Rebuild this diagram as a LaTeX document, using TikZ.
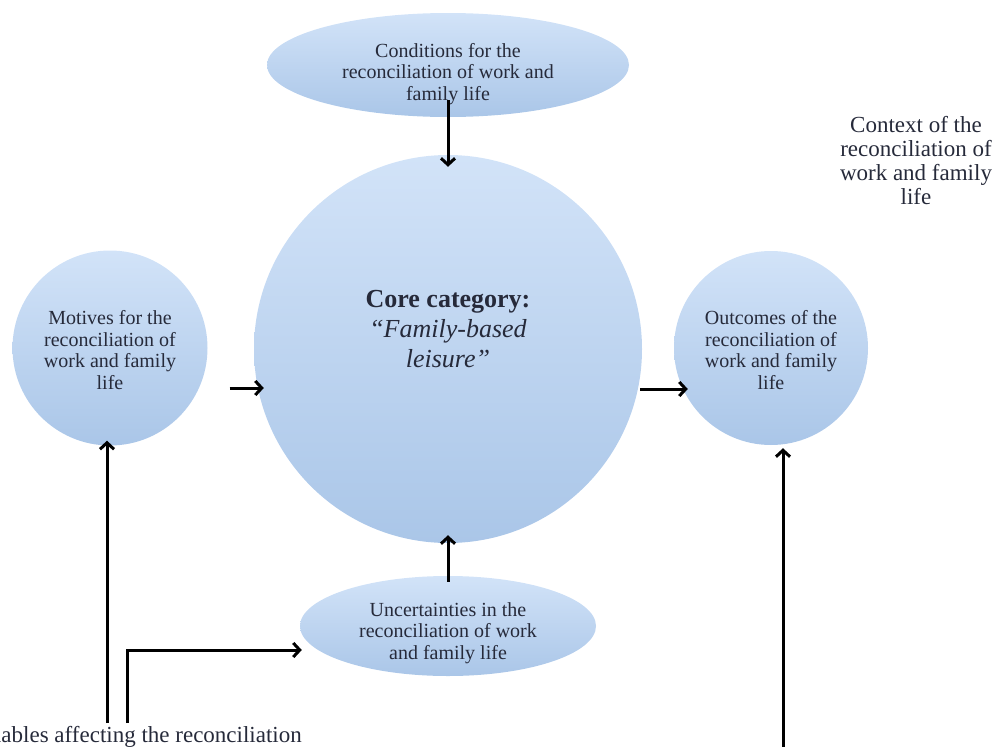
\documentclass[tikz,border=0pt]{standalone}
\usepackage{fontspec}
\setmainfont{Liberation Serif}
\usetikzlibrary{shapes.geometric,arrows.meta}
\definecolor{blueTop}{RGB}{210,227,248}
\definecolor{blueBot}{RGB}{170,198,232}
\definecolor{textc}{RGB}{38,42,58}
\begin{document}
\begin{tikzpicture}[x=1pt,y=-1pt,
  bubble/.style={draw=none, top color=blueTop, bottom color=blueBot, inner sep=0pt},
  btext/.style={align=center, text=textc, inner sep=0pt, font=\fontsize{20}{21.7}\selectfont},
  arr/.style={line width=3pt, -{Straight Barb[length=6.5pt,width=14pt]}},
  ]
\useasboundingbox (0,0) rectangle (999,747);
\clip (0,0) rectangle (999,747);
% shapes
\node[bubble, ellipse, minimum width=362pt, minimum height=104pt] (cond) at (448,65) {};
\node[bubble, circle, minimum size=388pt] (core) at (448,349) {};
\node[bubble, circle, minimum size=195pt] (mot) at (110,348) {};
\node[bubble, circle, minimum size=194pt] (out) at (771,348) {};
\node[bubble, ellipse, minimum width=296pt, minimum height=100pt] (unc) at (448,626) {};
% texts
\node[btext] (condt) at (448,74) {Conditions for the\\reconciliation of work and\\family life};
\node[btext] (mott) at (110,350) {Motives for the\\reconciliation of\\work and family\\life};
\node[btext] (outt) at (771,350) {Outcomes of the\\reconciliation of\\work and family\\life};
\node[btext] (unct) at (448,633) {Uncertainties in the\\reconciliation of work\\and family life};
\node[align=center, text=textc, inner sep=0pt, font=\fontsize{26}{30}\selectfont] (coret) at (448,329)
  {\textbf{Core category:}\\\textit{“Family-based}\\\textit{leisure”}};
\node[align=center, text=textc, inner sep=0pt, font=\fontsize{23}{24}\selectfont] (ctx) at (916,161)
  {Context of the\\reconciliation of\\work and family\\life};
\node[anchor=base east, text=textc, inner sep=0pt, font=\fontsize{23}{26}\selectfont] (var) at (302,742)
  {Variables affecting the reconciliation};
% connectors
\coordinate (v1) at (107,723);
\coordinate (v2) at (127,723);
\coordinate (v3) at (783,747);
\draw[arr] ([yshift=17pt]cond.south) -- ([yshift=-12pt]core.north);
\draw[arr] ([yshift=-6pt]unc.north) -- ([yshift=8pt]core.south);
\draw[arr] ([xshift=22pt,yshift=-40pt]mot.east) -- ([xshift=10pt,yshift=-39pt]core.west);
\draw[arr] ([xshift=-2pt,yshift=-40pt]core.east) -- ([xshift=14pt,yshift=-41pt]out.west);
\draw[arr] (v1) -- ([yshift=5pt]v1 |- mot.south);
\draw[arr] (v2) |- ([xshift=2pt,yshift=-24pt]unc.west);
\draw[arr] (v3) -- ([xshift=12pt,yshift=-3pt]out.south);
\end{tikzpicture}
\end{document}
